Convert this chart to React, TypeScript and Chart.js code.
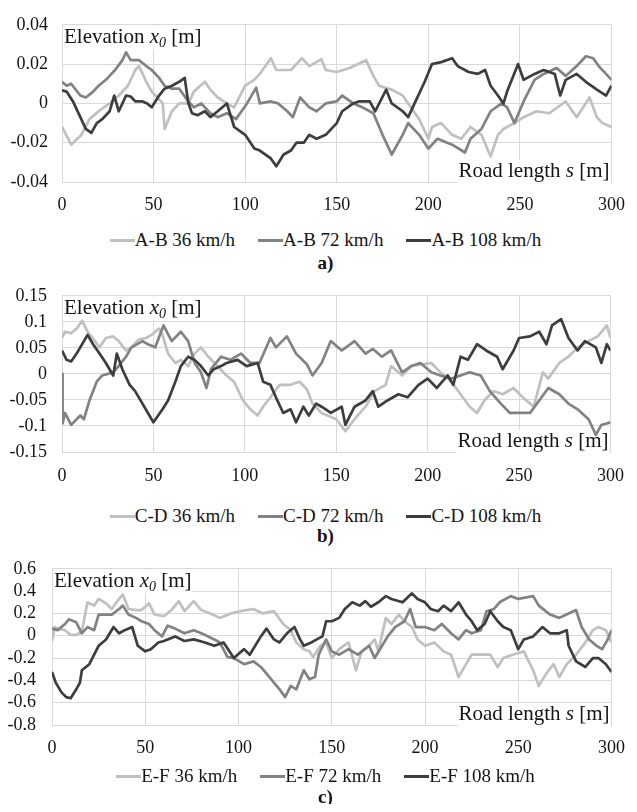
import React, { useEffect, useRef } from "react";
import { Chart, registerables } from "chart.js";

Chart.register(...registerables);

type Pt = [number, number];

// Road length axis (m)
const S_MIN = 0;
const S_MAX = 300;
const S_STEP = 50;

// Elevation tick labels per panel (m)
const AB_Y_TICKS = [-0.04, -0.02, 0, 0.02, 0.04];
const CD_Y_TICKS = [-0.15, -0.1, -0.05, 0, 0.05, 0.1, 0.15];
const EF_Y_TICKS = [-0.8, -0.6, -0.4, -0.2, 0, 0.2, 0.4, 0.6];

const SPEEDS = ["36 km/h", "72 km/h", "108 km/h"];

// Road profile A-B: [s (m), x0 (m)]
const ab36: Pt[] = [
  [0, -0.012], [5, -0.021], [10.6, -0.016], [15, -0.008], [20, -0.004], [26, 0], [31, 0.004], [36, 0.009],
  [40, 0.017], [42, 0.019], [46, 0.011], [49, 0.006], [55, 0], [56, -0.013], [60, -0.004], [64, 0], [69, 0],
  [72, 0.006], [78, 0.011], [81, 0.007], [85, 0.003], [90, 0], [94, -0.002], [100, 0.009], [105, 0.012],
  [108, 0.015], [114, 0.023], [117, 0.017], [125, 0.017], [131, 0.023], [135, 0.019], [141.6, 0.0225],
  [144, 0.017], [150, 0.016], [157, 0.018], [166, 0.022], [170, 0.014], [173, 0.009], [180, 0.007],
  [186, 0.004], [189, 0], [195, -0.008], [200, -0.018], [202, -0.012], [207, -0.01], [213, -0.016],
  [218, -0.018], [223, -0.012], [229, -0.016], [234, -0.027], [238, -0.016], [241, -0.013], [247, -0.01],
  [252, -0.007], [259, -0.004], [266, -0.005], [275, 0.001], [281, -0.007], [288, 0.003], [292, -0.007],
  [295, -0.01], [300, -0.012],
];
const ab72: Pt[] = [
  [0, 0.011], [2.5, 0.009], [5, 0.01], [10, 0.004], [13, 0.003], [17, 0.006], [20, 0.009], [24, 0.012],
  [27, 0.015], [29, 0.017], [33, 0.022], [35, 0.026], [37.5, 0.022], [42, 0.022], [46, 0.019], [49, 0.017],
  [53, 0.013], [56, 0.009], [60, 0.0075], [64, 0.0075], [69, 0.001], [72, -0.002], [76, 0], [81, -0.005],
  [85, -0.007], [90, -0.005], [95, -0.008], [98, -0.004], [101, 0], [106, 0.008], [108, 0], [114, 0.001],
  [118, 0], [123, -0.004], [126, -0.007], [130, 0.003], [135, -0.002], [139, -0.004], [144, 0], [150, 0.001],
  [153, 0.004], [159, 0], [164, -0.002], [170, -0.005], [175, -0.016], [180, -0.026], [186, -0.016],
  [189, -0.01], [195, -0.016], [200, -0.023], [205, -0.018], [213, -0.021], [220, -0.025], [223, -0.018],
  [229, -0.013], [234, -0.004], [240, 0], [243, -0.002], [247, -0.01], [252, 0.001], [258, 0.012],
  [263, 0.015], [270, 0.018], [275, 0.014], [281, 0.019], [286, 0.024], [290, 0.023], [293, 0.019],
  [297, 0.015], [300, 0.012],
];
const ab108: Pt[] = [
  [0, 0.0067], [2.5, 0.006], [6, 0.001], [10, -0.007], [13, -0.013], [16, -0.015], [19, -0.01], [22, -0.008],
  [26, -0.004], [28.5, 0.004], [31, -0.004], [35, 0.004], [37.5, 0.0035], [40, 0.001], [44, 0.001], [46.5, 0],
  [49, -0.002], [53, 0.004], [56, 0.0075], [60, 0.009], [64, 0.011], [67, 0.013], [69, 0], [71, -0.005],
  [74, -0.006], [78, -0.004], [81, -0.007], [85, -0.004], [90, 0], [94, -0.012], [100, -0.016], [105, -0.023],
  [108, -0.024], [114, -0.028], [117, -0.032], [121, -0.026], [125, -0.024], [128, -0.02], [132, -0.02],
  [135, -0.016], [139, -0.018], [144, -0.016], [150, -0.01], [153, -0.004], [159, 0], [162, 0.001],
  [168, 0.001], [171, -0.004], [177, 0.007], [180, 0], [186, -0.004], [189, -0.007], [193, 0.001],
  [198, 0.011], [202, 0.02], [207, 0.021], [213, 0.023], [216, 0.019], [222, 0.016], [227, 0.015],
  [231, 0.017], [234, 0.009], [238, 0.004], [241, 0], [243, 0.006], [249, 0.02], [252, 0.012], [258, 0.015],
  [263, 0.017], [269, 0.015], [272, 0.004], [275, 0.012], [281, 0.015], [286, 0.011], [292, 0.007],
  [297, 0.004], [300, 0.009],
];

// Road profile C-D
const cd36: Pt[] = [
  [0, 0.069], [1.6, 0.081], [5, 0.078], [8, 0.087], [11, 0.102], [14, 0.081], [18, 0.063], [20.5, 0.051],
  [24, 0.069], [28, 0.072], [31, 0.063], [35, 0.045], [38, 0.051], [42, 0.066], [46, 0.069], [49, 0.075],
  [53, 0.087], [55, 0.075], [58, 0.039], [62, 0.021], [65, 0.027], [69, 0.015], [72.5, 0.039], [76, 0.051],
  [80, 0.033], [85, 0.015], [90, -0.003], [94, -0.015], [99, -0.051], [103, -0.068], [107, -0.08],
  [110, -0.063], [114, -0.045], [119, -0.021], [125, -0.021], [130, -0.015], [134, -0.03], [137, -0.057],
  [142, -0.075], [150, -0.087], [155, -0.11], [160, -0.087], [166, -0.063], [171, -0.033], [177, -0.021],
  [180, 0.015], [186, -0.003], [191, 0.015], [196, 0.018], [202, 0.021], [207, 0.003], [213, -0.015],
  [218, -0.039], [223, -0.063], [227, -0.075], [231, -0.051], [236, -0.033], [241, -0.039], [247, -0.027],
  [252, -0.045], [258, -0.063], [263, 0.003], [266, -0.009], [272, 0.021], [277, 0.033], [282, 0.051],
  [288, 0.063], [293, 0.072], [298, 0.093], [300, 0.069],
];
const cd72: Pt[] = [
  [0, 0], [0.3, -0.095], [1.6, -0.075], [5, -0.098], [10, -0.08], [12, -0.087], [15, -0.051], [19, -0.015],
  [22, -0.003], [28, 0.003], [31, 0.015], [35, 0.033], [38, 0.051], [44, 0.063], [47, 0.057], [51, 0.051],
  [55.5, 0.093], [60, 0.063], [65, 0.081], [69, 0.063], [72.5, 0.021], [76, 0.003], [79, -0.027],
  [81.5, 0.009], [87, 0.033], [92, 0.027], [98, 0.039], [103, 0.021], [108, 0.021], [114, 0.069],
  [117, 0.051], [123, 0.072], [128, 0.039], [134, 0.018], [137, -0.003], [142, 0.021], [147, 0.063],
  [153, 0.045], [160, 0.063], [166, 0.039], [170, 0.048], [175, 0.033], [180, 0.045], [186, 0.003],
  [191, 0.015], [196, 0.021], [202, 0.003], [207, -0.003], [213, -0.009], [218, -0.003], [223, 0.003],
  [229, -0.003], [234, -0.033], [240, -0.057], [245, -0.075], [250, -0.075], [256, -0.075], [261, -0.051],
  [266, -0.027], [272, -0.039], [277, -0.057], [282, -0.068], [288, -0.087], [292, -0.117], [295, -0.098],
  [300, -0.093],
];
const cd108: Pt[] = [
  [0, 0.045], [2.5, 0.027], [5, 0.024], [8, 0.039], [11.5, 0.06], [14, 0.075], [17, 0.057], [20.5, 0.039],
  [24, 0.021], [28, -0.003], [30, 0.039], [33, 0.009], [37, -0.021], [40, -0.033], [44, -0.057], [47, -0.075],
  [50, -0.093], [55, -0.068], [58, -0.051], [62, -0.015], [65, 0.015], [69, 0.033], [72.5, 0.027], [76, 0.015],
  [80, -0.003], [83, 0.009], [87, 0.015], [90, 0.021], [96, 0.027], [101, 0.015], [107, 0.021], [110, -0.015],
  [114, -0.021], [117, -0.045], [121, -0.075], [125, -0.068], [128, -0.093], [132, -0.063], [135, -0.08],
  [139, -0.057], [142, -0.063], [147, -0.075], [153, -0.063], [155, -0.098], [160, -0.063], [166, -0.051],
  [170, -0.033], [173, -0.063], [178, -0.051], [184, -0.039], [189, -0.045], [195, -0.021], [200, -0.009],
  [205, -0.027], [211, -0.003], [214, -0.021], [218, 0.033], [222, 0.027], [227, 0.057], [232, 0.045],
  [238, 0.033], [241, 0.009], [247, 0.045], [250, 0.069], [256, 0.072], [261, 0.081], [265, 0.057],
  [268, 0.093], [273, 0.105], [277, 0.069], [282, 0.045], [286, 0.063], [292, 0.051], [295, 0.021],
  [298, 0.057], [300, 0.045],
];

// Road profile E-F
const ef36: Pt[] = [
  [0, -0.047], [1.4, 0.078], [3, 0.064], [7, 0.05], [10, 0.008], [13, 0.008], [16, 0.036], [19, 0.3],
  [22.6, 0.27], [25, 0.33], [29, 0.29], [32, 0.24], [36, 0.33], [38, 0.37], [41, 0.24], [45, 0.23], [48, 0.23],
  [52, 0.29], [55, 0.19], [60, 0.175], [64, 0.23], [68, 0.31], [71, 0.22], [76, 0.31], [80, 0.23], [85, 0.2],
  [90, 0.16], [96, 0.2], [101, 0.22], [108, 0.24], [113, 0.2], [119, 0.22], [124, 0.105], [128, 0.05],
  [131, -0.06], [135, -0.12], [138, -0.14], [140, -0.19], [144, -0.09], [147, -0.06], [150, -0.2],
  [154, -0.12], [159, -0.06], [163, -0.31], [166, -0.14], [170, -0.09], [173, -0.033], [175, -0.14],
  [179, 0.16], [182, 0.105], [186, 0.19], [189, 0.13], [193, 0.078], [196, -0.033], [200, -0.09],
  [205, -0.06], [210, -0.14], [214, -0.17], [218, -0.37], [222, -0.255], [225, -0.17], [230, -0.17],
  [235, -0.17], [239, -0.28], [242, -0.2], [247, -0.17], [253, -0.14], [258, -0.31], [261, -0.45],
  [265, -0.34], [269, -0.255], [272, -0.37], [276, -0.255], [281, -0.17], [286, -0.06], [290, 0.05],
  [293, 0.078], [297, 0.05], [300, -0.06],
];
const ef72: Pt[] = [
  [0, 0.064], [3, 0.05], [7, 0.105], [9, 0.147], [13, 0.12], [16, 0.022], [19, 0.078], [22.6, 0.05],
  [25, 0.19], [29, 0.19], [32, 0.19], [36, 0.24], [38, 0.27], [41, 0.19], [45, 0.16], [48, 0.13], [52, 0.105],
  [55, 0.05], [59, -0.006], [62, 0.09], [66, 0.064], [71, 0.022], [76, 0.05], [82, 0.008], [87, -0.033],
  [90, -0.06], [94, -0.19], [97.5, -0.2], [103, -0.255], [108, -0.23], [112, -0.28], [115, -0.34],
  [119, -0.42], [122, -0.48], [125, -0.55], [128, -0.45], [131, -0.48], [135, -0.31], [138, -0.39],
  [141, -0.37], [143, -0.17], [147, -0.033], [150, -0.14], [154, -0.17], [159, -0.12], [164, -0.17],
  [170, -0.09], [173, -0.2], [177, -0.09], [180, -0.006], [184, 0.078], [189, 0.13], [192, 0.24],
  [195, 0.078], [200, 0.078], [205, 0.05], [209, 0.105], [214, 0.022], [218, -0.033], [222, 0.05],
  [225, 0.022], [230, 0.05], [233, 0.22], [237, 0.24], [240, 0.3], [246, 0.355], [250, 0.33], [258, 0.355],
  [261, 0.27], [267, 0.19], [272, 0.16], [277, 0.2], [281, 0.23], [284, 0.078], [288, -0.033], [292, -0.09],
  [295, -0.12], [298, -0.033], [300, 0.05],
];
const ef108: Pt[] = [
  [0, -0.325], [2, -0.42], [5, -0.505], [7.6, -0.55], [10, -0.56], [13, -0.48], [15, -0.42], [16, -0.31],
  [20, -0.255], [22.6, -0.17], [25, -0.09], [29, -0.033], [31, 0.022], [33, 0.078], [36, 0.022], [39, 0.05],
  [43, 0.078], [46, -0.09], [50, -0.14], [53, -0.12], [57, -0.06], [60, -0.047], [66, -0.006], [71, -0.047],
  [76, -0.033], [82, -0.06], [87, -0.09], [92, -0.06], [97.5, -0.2], [103, -0.12], [106, -0.17],
  [112, -0.006], [115, 0.064], [119, -0.033], [122, -0.06], [126, 0.022], [130, 0.078], [133, -0.033],
  [135, -0.09], [139, -0.06], [142, -0.033], [145, -0.006], [147, 0.13], [150, 0.13], [154, 0.16],
  [157, 0.24], [161, 0.3], [165, 0.27], [168, 0.31], [171, 0.26], [175, 0.3], [179, 0.355], [182, 0.33],
  [188, 0.3], [193, 0.38], [196, 0.33], [200, 0.3], [203, 0.24], [207, 0.22], [210, 0.27], [214, 0.22],
  [218, 0.3], [222, 0.19], [225, 0.13], [228, 0.05], [232, 0.105], [235, 0.22], [239, 0.13], [242, 0.078],
  [246, 0.05], [250, -0.12], [253, -0.033], [258, -0.006], [263, 0.078], [267, 0.022], [272, 0.022],
  [276, 0.05], [277, -0.09], [281, -0.23], [286, -0.28], [290, -0.2], [293, -0.2], [297, -0.255],
  [300, -0.325],
];

const LINE_COLORS = ["#c0c0c0", "#828282", "#3d3d3d"];
const GRID = "#d9d9d9";
const TEXT = "#141414";
const SERIF = '"Liberation Serif", "Times New Roman", "DejaVu Serif", Times, serif';

type Part = { t: string; italic?: boolean; sub?: boolean };
const ELEVATION_TITLE: Part[] = [{ t: "Elevation " }, { t: "x", italic: true }, { t: "0", italic: true, sub: true }, { t: " [m]" }];
const ROAD_TITLE: Part[] = [{ t: "Road length " }, { t: "s", italic: true }, { t: " [m]" }];

const TITLE_SIZE = 21;

function partFont(p: Part) {
  const size = p.sub ? Math.round(TITLE_SIZE * 0.68) : TITLE_SIZE;
  return `${p.italic ? "italic " : ""}${size}px ${SERIF}`;
}

function drawRich(ctx: CanvasRenderingContext2D, parts: Part[], x: number, baseline: number, align: "left" | "right") {
  ctx.save();
  const widths = parts.map((p) => {
    ctx.font = partFont(p);
    return ctx.measureText(p.t).width;
  });
  const total = widths.reduce((a, b) => a + b, 0);
  let cx = align === "left" ? x : x - total;
  ctx.fillStyle = "#ffffff";
  ctx.fillRect(cx - 1, baseline - TITLE_SIZE * 0.8, total + 2, TITLE_SIZE * 1.1);
  ctx.fillStyle = TEXT;
  ctx.textBaseline = "alphabetic";
  ctx.textAlign = "left";
  parts.forEach((p, i) => {
    ctx.font = partFont(p);
    ctx.fillText(p.t, cx, baseline + (p.sub ? TITLE_SIZE * 0.22 : 0));
    cx += widths[i];
  });
  ctx.restore();
}

const axisTitles = {
  id: "axisTitles",
  beforeDatasetsDraw(chart: any) {
    const { ctx, chartArea } = chart;
    drawRich(ctx, ELEVATION_TITLE, chartArea.left + 2, chartArea.top + 18, "left");
    drawRich(ctx, ROAD_TITLE, chartArea.right - 2, chartArea.bottom - 5, "right");
  },
};

function fmt(v: number) {
  return String(Number(v.toFixed(3)));
}

type PanelProps = {
  top: number;
  height: number;
  plotLeft: number;
  plotBottom: number;
  yTicks: number[];
  yPad: number;
  xPad: number;
  series: Pt[][];
  road: string;
  legendY: number;
  captionY: number;
  caption: string;
};

function Panel(props: PanelProps) {
  const ref = useRef<HTMLCanvasElement>(null);
  useEffect(() => {
    const canvas = ref.current;
    if (!canvas) return;
    const yTicks = props.yTicks;
    const chart = new Chart(canvas, {
      type: "line",
      data: {
        datasets: props.series.map((pts, i) => ({
          label: `${props.road} ${SPEEDS[i]}`,
          data: pts.map(([s, z]) => ({ x: s, y: z })),
          borderColor: LINE_COLORS[i],
          backgroundColor: LINE_COLORS[i],
          borderWidth: 2.7,
          pointRadius: 0,
          tension: 0,
          fill: false,
          order: 2 - i,
          borderJoinStyle: "round" as const,
        })),
      },
      options: {
        responsive: false,
        animation: false,
        events: [],
        layout: { padding: { top: 15, right: 637 - 619, left: 0, bottom: 0 } },
        plugins: { legend: { display: false }, title: { display: false }, tooltip: { enabled: false } },
        scales: {
          x: {
            type: "linear",
            min: S_MIN,
            max: S_MAX,
            afterFit: (scale: any) => {
              scale.height = props.height - props.plotBottom;
            },
            afterBuildTicks: (scale: any) => {
              const t = [];
              for (let v = S_MIN; v <= S_MAX; v += S_STEP) t.push({ value: v });
              scale.ticks = t;
            },
            ticks: {
              font: { family: SERIF, size: 18 },
              color: TEXT,
              padding: props.xPad,
              maxRotation: 0,
              autoSkip: false,
              callback: (v: any) => String(v),
            },
            grid: { color: GRID, lineWidth: 1, drawTicks: false },
            border: { color: GRID, width: 1 },
          },
          y: {
            type: "linear",
            min: yTicks[0],
            max: yTicks[yTicks.length - 1],
            afterFit: (scale: any) => {
              scale.width = props.plotLeft;
            },
            afterBuildTicks: (scale: any) => {
              scale.ticks = yTicks.map((v) => ({ value: v }));
            },
            ticks: {
              font: { family: SERIF, size: 18 },
              color: TEXT,
              padding: props.yPad,
              autoSkip: false,
              callback: (v: any) => fmt(Number(v)),
            },
            grid: { color: GRID, lineWidth: 1, drawTicks: false },
            border: { color: GRID, width: 1 },
          },
        },
      },
      plugins: [axisTitles],
    } as any);
    return () => chart.destroy();
  }, []);

  return (
    <>
      <canvas
        ref={ref}
        width={637}
        height={props.height}
        style={{ position: "absolute", left: 0, top: props.top, width: 637, height: props.height }}
      />
      <div
        style={{
          position: "absolute",
          left: 14,
          width: 623,
          top: props.legendY - 12,
          height: 24,
          display: "flex",
          justifyContent: "center",
          alignItems: "center",
          gap: 23,
          fontFamily: SERIF,
          fontSize: 19,
          color: TEXT,
          whiteSpace: "nowrap",
        }}
      >
        {SPEEDS.map((sp, i) => (
          <div key={sp} style={{ display: "flex", alignItems: "center" }}>
            <span style={{ display: "inline-block", width: 25, height: 3, background: LINE_COLORS[i] }} />
            <span>{`${props.road} ${sp}`}</span>
          </div>
        ))}
      </div>
      <div
        style={{
          position: "absolute",
          left: 14,
          width: 623,
          top: props.captionY - 12,
          height: 24,
          lineHeight: "24px",
          textAlign: "center",
          fontFamily: SERIF,
          fontWeight: "bold",
          fontSize: 19,
          color: TEXT,
        }}
      >
        {props.caption}
      </div>
    </>
  );
}

export default function App() {
  return (
    <div style={{ position: "relative", margin: -8, width: 637, height: 812, background: "#fff", overflow: "hidden" }}>
      <Panel top={0} height={222} plotLeft={62} plotBottom={182} yTicks={AB_Y_TICKS} yPad={14} xPad={12}
        series={[ab36, ab72, ab108]} road="A-B" legendY={240} captionY={263} caption="a)" />
      <Panel top={270} height={222} plotLeft={62} plotBottom={182} yTicks={CD_Y_TICKS} yPad={15} xPad={13}
        series={[cd36, cd72, cd108]} road="C-D" legendY={516} captionY={536} caption="b)" />
      <Panel top={542} height={223} plotLeft={52} plotBottom={183} yTicks={EF_Y_TICKS} yPad={16} xPad={12}
        series={[ef36, ef72, ef108]} road="E-F" legendY={776} captionY={797} caption="c)" />
    </div>
  );
}
